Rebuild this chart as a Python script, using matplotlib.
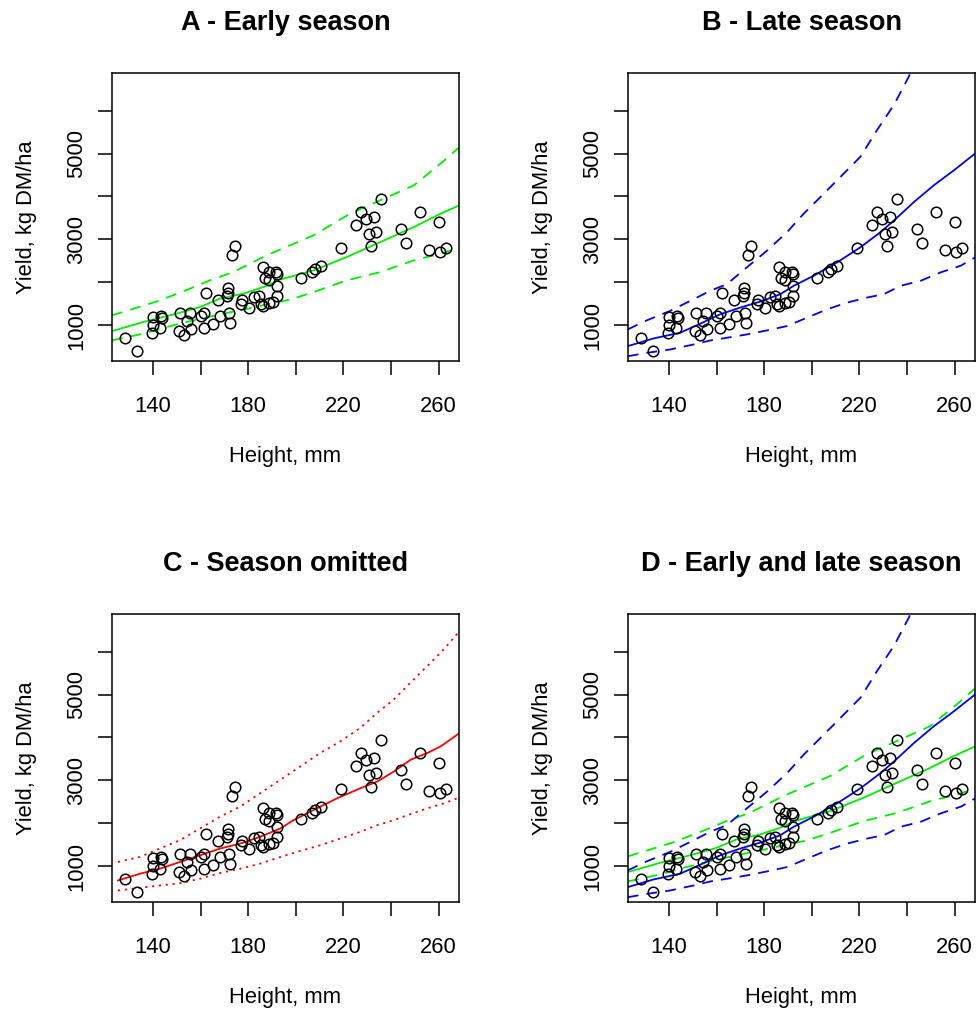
import numpy as np
import matplotlib.pyplot as plt

plt.rcParams['font.family'] = ['Liberation Sans', 'DejaVu Sans']

# observed plots: sward height (mm) and yield (kg DM/ha)
height_mm = [128.1, 133.3, 139.7, 140.0, 140.1, 143.2, 143.9, 142.8, 151.4, 155.6,
             154.2, 151.0, 152.8, 155.9, 160.1, 161.5, 161.5, 165.0, 162.1, 167.3,
             168.2, 171.1, 171.3, 171.3, 171.8, 172.3, 173.2, 174.6, 177.2, 177.0,
             180.5, 182.6, 184.4, 185.4, 186.1, 188.9, 190.3, 192.0, 192.0, 186.1,
             187.2, 188.6, 188.9, 191.7, 192.1, 202.0, 206.9, 207.9, 210.4, 218.8,
             225.4, 227.5, 229.6, 230.6, 231.5, 232.7, 233.6, 235.7, 244.4, 246.5,
             252.3, 256.1, 260.3, 260.8, 263.2]
yield_kg = [695, 414, 828, 1008, 1195, 1219, 1180, 930, 1297, 1297,
            1102, 867, 773, 906, 1219, 1297, 945, 1039, 1742, 1586,
            1219, 1688, 1867, 1742, 1297, 1063, 2641, 2836, 1586, 1508,
            1414, 1664, 1688, 1508, 1453, 1531, 1555, 1688, 1922, 2352,
            2102, 2234, 2055, 2234, 2195, 2102, 2234, 2313, 2391, 2797,
            3328, 3641, 3484, 3133, 2844, 3523, 3172, 3930, 3250, 2914,
            3648, 2758, 3398, 2719, 2797]

# early season model (green)
early_fit_h = [122.7, 135.8, 149.9, 159.7, 168.1, 178.0, 186.4, 193.4, 207.5, 221.5, 235.6, 249.7, 259.5, 268.8]
early_fit = [867, 1077, 1273, 1427, 1622, 1739, 1893, 2065, 2282, 2592, 2942, 3291, 3564, 3797]
early_hi_h = [122.7, 142.1, 155.5, 163.9, 173.7, 183.6, 187.8, 193.4, 207.5, 222.9, 235.6, 249.7, 260.9, 268.8]
early_hi = [1233, 1566, 1855, 2049, 2242, 2515, 2632, 2765, 3098, 3604, 3914, 4263, 4769, 5150]
early_lo_h = [122.7, 135.8, 149.9, 158.3, 168.1, 178.0, 189.2, 197.6, 207.5, 221.5, 235.6, 249.7, 260.9, 268.8]
early_lo = [650, 806, 1023, 1133, 1256, 1366, 1506, 1599, 1776, 2049, 2242, 2515, 2671, 2811]

# late season model (blue)
late_fit_h = [122.6, 133.4, 144.6, 153.1, 161.5, 169.9, 178.4, 186.8, 192.4, 200.8,
              210.7, 220.5, 228.9, 234.6, 243.0, 251.4, 259.9, 268.8]
late_fit = [516, 695, 828, 1039, 1258, 1414, 1555, 1727, 1922, 2156,
            2469, 2820, 3172, 3445, 3875, 4266, 4617, 5008]
late_hi_h = [122.6, 130.6, 140.4, 150.3, 157.3, 164.3, 172.7, 181.2, 189.6, 196.6,
             205.1, 213.5, 220.5, 227.5, 234.6, 240.9, 242.5]
late_hi = [906, 1117, 1336, 1609, 1805, 1961, 2352, 2742, 3172, 3602,
           4070, 4539, 4930, 5555, 6141, 6805, 7100]
late_lo_h = [122.6, 130.6, 140.4, 150.3, 157.3, 164.3, 172.7, 181.2, 189.6, 198.0,
             206.5, 214.9, 223.3, 230.3, 237.4, 245.8, 254.2, 262.7, 268.8]
late_lo = [281, 359, 438, 555, 648, 711, 789, 883, 984, 1180,
           1375, 1531, 1648, 1727, 1922, 2039, 2234, 2391, 2586]

# season omitted model (red)
pooled_h = [125.2, 134.4, 142.8, 151.3, 159.7, 168.1, 176.6, 185.0, 193.5, 199.1,
            207.5, 217.4, 227.2, 234.3, 241.3, 248.3, 255.4, 261.0, 269.4]
pooled_fit = [672, 828, 945, 1102, 1258, 1414, 1531, 1688, 1883, 2078,
              2313, 2586, 2820, 2977, 3211, 3484, 3641, 3797, 4125]
pooled_band_h = [125.2, 134.4, 142.8, 151.3, 159.7, 168.1, 176.6, 185.0, 193.5, 201.9,
                 210.3, 218.8, 227.2, 234.3, 241.3, 248.3, 255.4, 262.4, 269.0]
pooled_hi = [1102, 1219, 1414, 1609, 1883, 2156, 2391, 2703, 3016, 3328,
             3641, 3914, 4227, 4578, 4891, 5281, 5672, 6063, 6492]
pooled_lo = [438, 500, 555, 609, 711, 844, 945, 1063, 1219, 1359,
             1492, 1648, 1805, 1961, 2078, 2219, 2352, 2469, 2609]

titles = ['A - Early season', 'B - Late season', 'C - Season omitted', 'D - Early and late season']
x_ticks = [140, 160, 180, 200, 220, 240, 260]
x_ticklabels = ['140', '', '180', '', '220', '', '260']
y_ticks = [1000, 2000, 3000, 4000, 5000, 6000]
y_ticklabels = ['1000', '', '3000', '', '5000', '']

W, H = 976, 1023
fig = plt.figure(figsize=(W / 100, H / 100), dpi=100)

# axes boxes in pixels: left, top, right, bottom
boxes = [(112, 73, 459, 361), (628, 73, 975, 361),
         (112, 614, 459, 902), (628, 614, 975, 902)]

# R style 4% padding around the data
xr = max(height_mm) - min(height_mm)
xlim = (min(height_mm) - 0.04 * xr, max(height_mm) + 0.04 * xr)
ylim = (170, 6875)

dash = (0, (6, 4.5))
dot = (0, (1.2, 2.6))
lw = 1.3

axes = []
for (l, t, r, b), title in zip(boxes, titles):
    ax = fig.add_axes([l / W, 1 - b / H, (r - l) / W, (b - t) / H])
    ax.plot(height_mm, yield_kg, 'o', mfc='none', mec='black', ms=7.6, mew=1.1, zorder=3)
    ax.set_xlim(xlim)
    ax.set_ylim(ylim)
    ax.set_xticks(x_ticks)
    ax.set_xticklabels(x_ticklabels)
    ax.set_yticks(y_ticks)
    ax.set_yticklabels(y_ticklabels, rotation=90, va='center')
    ax.tick_params(direction='out', length=10, width=1.1, labelsize=15.8, colors='black')
    ax.tick_params(axis='x', pad=15)
    ax.tick_params(axis='y', pad=8)
    for s in ax.spines.values():
        s.set_linewidth(1.1)
    ax.set_xlabel('Height, mm', fontsize=15.8, labelpad=21)
    ax.set_ylabel('Yield, kg DM/ha', fontsize=15.8, labelpad=21)
    ax.set_title(title, fontsize=19.5, fontweight='bold', pad=31)
    axes.append(ax)

axA, axB, axC, axD = axes

for ax in (axA, axD):
    ax.plot(early_fit_h, early_fit, color='#00ee00', lw=lw)
    ax.plot(early_hi_h, early_hi, color='#00ee00', lw=lw, ls=dash)
    ax.plot(early_lo_h, early_lo, color='#00ee00', lw=lw, ls=dash)

for ax in (axB, axD):
    ax.plot(late_fit_h, late_fit, color='#0000ff', lw=lw)
    ax.plot(late_hi_h, late_hi, color='#0000ff', lw=lw, ls=dash)
    ax.plot(late_lo_h, late_lo, color='#0000ff', lw=lw, ls=dash)

axC.plot(pooled_h, pooled_fit, color='#ff0000', lw=lw)
axC.plot(pooled_band_h, pooled_hi, color='#ff0000', lw=lw, ls=dot)
axC.plot(pooled_band_h, pooled_lo, color='#ff0000', lw=lw, ls=dot)

fig.savefig('out.png', dpi=100)
